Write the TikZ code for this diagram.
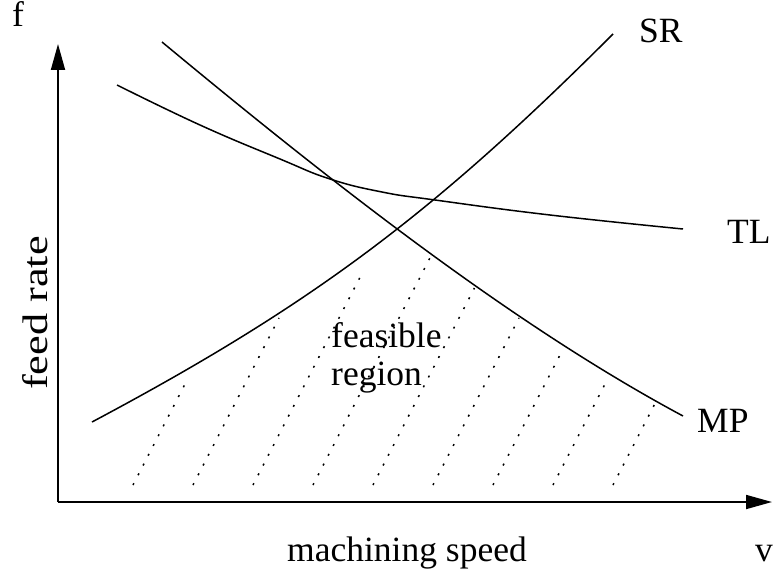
\documentclass[tikz,border=0pt]{standalone}
\usepackage{fontspec}
\setmainfont{Liberation Serif}
\usetikzlibrary{arrows.meta}
\begin{document}
\begin{tikzpicture}[x=1pt,y=-1pt,
  curve/.style={line width=1.5pt},
  axis/.style={line width=1.8pt,-{Triangle[length=26pt,width=14pt]}},
  hatch/.style={line width=1.5pt, dash pattern=on 2pt off 9pt},
  lbl/.style={font=\fontsize{35.5}{38}\selectfont, inner sep=0pt, anchor=base west}]
\useasboundingbox (0,0) rectangle (773,575);
% hatching of the feasible region
\foreach \k/\t in {0/380,1/318,2/274,3/258,4/288,5/318,6/349,7/380,8/402}{
  \coordinate (hb\k) at ({133+60*\k},485);
  \coordinate (ht\k) at ({133+60*\k+0.515*(485-\t)},\t);
  \draw[hatch] (hb\k) -- (ht\k);
}
% axes
\coordinate (O) at (58,502);
\coordinate (ytip) at (58,44);
\coordinate (xtip) at (772,502);
\draw[axis] (O) -- (ytip);
\draw[axis] (O) -- (xtip);
% curves
\coordinate (sr0) at (92,422);
\coordinate (sr1) at (613,34);
\draw[curve] (sr0) .. controls (312,305) and (433,214) .. (sr1);
\coordinate (mp0) at (162,42);
\coordinate (mp1) at (683,416);
\draw[curve] (mp0) .. controls (332,183) and (513,325) .. (mp1);
\draw[curve] plot[smooth, tension=0.75] coordinates {(117,85) (200,125) (280,159) (330,179) (382,192) (435,200) (550,215) (683,229)};
% labels
\node[lbl] (f) at (12,27) {f};
\node[lbl] (v) at (755,561) {v};
\node[lbl] (speed) at (287,561) {machining speed};
\node[lbl, anchor=base, rotate=90] (rate) at (47,313) {\scalebox{1.25}[1]{feed rate}};
\node[lbl] (SR) at (639,43) {SR};
\node[lbl] (TL) at (727,243) {TL};
\node[lbl] (MP) at (697,432) {MP};
\node[lbl] (feas1) at (331,347) {feasible};
\node[lbl] (feas2) at (331,385) {region};
\end{tikzpicture}
\end{document}
